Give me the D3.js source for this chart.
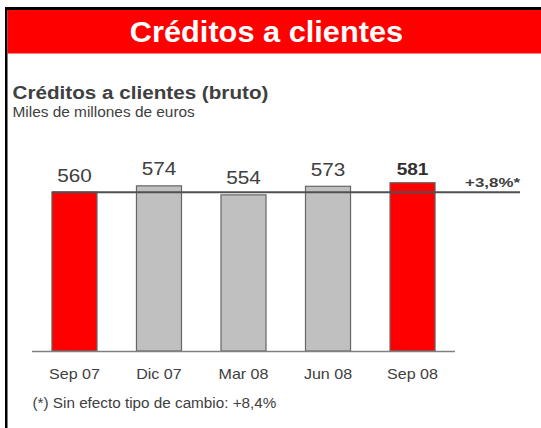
<!DOCTYPE html>
<html>
<head>
<meta charset="utf-8">
<script src="https://cdn.jsdelivr.net/npm/d3@7"></script>
<style>
  html, body { margin: 0; padding: 0; background: #fff; }
  svg { display: block; font-family: "Liberation Sans", Arial, sans-serif; }
</style>
</head>
<body>
<div id="chart"></div>
<script>
//chart data
const periods = ["Sep 07", "Dic 07", "Mar 08", "Jun 08", "Sep 08"];
const values = [560, 574, 554, 573, 581];
const highlighted = ["Sep 07", "Sep 08"];
const changeLabel = "+3,8%*";

//texts
const title = "Créditos a clientes";
const subtitle = "Créditos a clientes (bruto)";
const unitText = "Miles de millones de euros";
const footnote = "(*) Sin efecto tipo de cambio: +8,4%";

//size
const width = 541;
const height = 428;

//colors
const red = "#ff0000";
const grey = "#c0c0c0";
const textColor = "#404040";

const svg = d3.select("#chart")
  .append("svg")
  .attr("width", width)
  .attr("height", height);

//stretch text a little in x, like the source slide
function stretch(sel, k) {
  sel.each(function () {
    const w = this.getComputedTextLength();
    this.setAttribute("textLength", w * k);
    this.setAttribute("lengthAdjust", "spacingAndGlyphs");
  });
}

//frame
svg.append("rect").attr("x", 5).attr("y", 7).attr("width", width).attr("height", 3).attr("fill", "#000");
svg.append("rect").attr("x", 5).attr("y", 7).attr("width", 2.5).attr("height", height).attr("fill", "#000");

//header
svg.append("rect")
  .attr("x", 7.5).attr("y", 10)
  .attr("width", width - 7.5).attr("height", 43.5)
  .attr("fill", red);

svg.append("text")
  .attr("x", 266.5).attr("y", 41.5)
  .attr("text-anchor", "middle")
  .attr("fill", "#fff")
  .attr("font-weight", "bold")
  .attr("font-size", 29)
  .text(title)
  .call(stretch, 1.06);

//subtitle
svg.append("text")
  .attr("x", 12.5).attr("y", 98.5)
  .attr("fill", textColor)
  .attr("font-weight", "bold")
  .attr("font-size", 17.5)
  .text(subtitle)
  .call(stretch, 1.18);

svg.append("text")
  .attr("x", 12.5).attr("y", 116.5)
  .attr("fill", textColor)
  .attr("font-size", 14)
  .text(unitText)
  .call(stretch, 1.1);

//scales
const x = d3.scaleBand()
  .domain(periods)
  .range([32, 455])
  .paddingInner(0.467)
  .paddingOuter(0.236);

const y = d3.scaleLinear()
  .domain([207, 600])
  .range([351, 351 - 393 * 0.45]);

//bars
svg.append("g")
  .selectAll("rect")
  .data(periods)
  .join("rect")
  .attr("x", (d) => x(d))
  .attr("y", (d, i) => y(values[i]))
  .attr("width", x.bandwidth())
  .attr("height", (d, i) => y(y.domain()[0]) - y(values[i]))
  .attr("fill", (d) => (highlighted.includes(d) ? red : grey))
  .attr("stroke", "#666")
  .attr("stroke-width", 1.2);

//baseline
svg.append("line")
  .attr("x1", x.range()[0]).attr("x2", x.range()[1])
  .attr("y1", y(y.domain()[0]) + 0.5).attr("y2", y(y.domain()[0]) + 0.5)
  .attr("stroke", "#808080")
  .attr("stroke-width", 1.5);

//reference line at first value
svg.append("line")
  .attr("x1", x(periods[0])).attr("x2", 520)
  .attr("y1", y(values[0])).attr("y2", y(values[0]))
  .attr("stroke", "#505050")
  .attr("stroke-width", 2);

svg.append("text")
  .attr("x", 520).attr("y", 187)
  .attr("text-anchor", "end")
  .attr("fill", textColor)
  .attr("font-weight", "bold")
  .attr("font-size", 13.5)
  .text(changeLabel)
  .call(stretch, 1.25);

//value labels
const last = periods.length - 1;
svg.append("g")
  .selectAll("text")
  .data(periods)
  .join("text")
  .attr("x", (d) => x(d) + x.bandwidth() / 2)
  .attr("y", (d, i) => y(values[i]) - (i === last ? 8 : 10.5))
  .attr("text-anchor", "middle")
  .attr("fill", (d, i) => (i === last ? "#303030" : textColor))
  .attr("font-weight", (d, i) => (i === last ? "bold" : "normal"))
  .attr("font-size", (d, i) => (i === last ? 17 : 18.5))
  .text((d, i) => values[i])
  .call(stretch, 1.12);

//category axis labels
svg.append("g")
  .selectAll("text")
  .data(periods)
  .join("text")
  .attr("x", (d) => x(d) + x.bandwidth() / 2)
  .attr("y", 378.5)
  .attr("text-anchor", "middle")
  .attr("fill", textColor)
  .attr("font-size", 15)
  .text((d) => d)
  .call(stretch, 1.07);

//footnote
svg.append("text")
  .attr("x", 32.5).attr("y", 407.5)
  .attr("fill", textColor)
  .attr("font-size", 14)
  .text(footnote)
  .call(stretch, 1.09);
</script>
</body>
</html>
